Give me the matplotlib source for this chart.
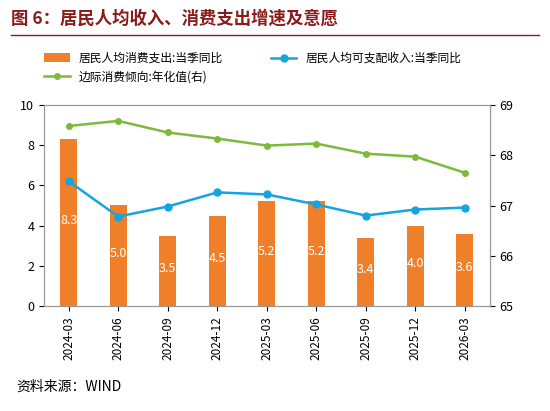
import matplotlib
matplotlib.use("Agg")
import matplotlib.pyplot as plt
plt.rcParams['font.family'] = ['Noto Sans CJK SC', 'DejaVu Sans']

cats = ["2024-03","2024-06","2024-09","2024-12","2025-03","2025-06","2025-09","2025-12","2026-03"]
consume = [8.3,5.0,3.5,4.5,5.2,5.2,3.4,4.0,3.6]
income = [6.2,4.45,4.95,5.65,5.55,5.05,4.5,4.8,4.9]
mpc = [68.58,68.68,68.45,68.33,68.19,68.23,68.03,67.97,67.65]

fig = plt.figure(figsize=(5.5,4.11), dpi=100)
fig.text(0.02,0.955,"图 6：居民人均收入、消费支出增速及意愿",fontsize=12.5,fontweight='bold',color='#8B1A1A',va='center')
fig.add_artist(plt.Line2D([0.02,0.98],[0.915,0.915],color='#8B1A1A',lw=1))
fig.text(0.03,0.06,"资料来源：WIND",fontsize=10,style='italic',va='center')

ax = fig.add_axes([0.08,0.255,0.81,0.49])
x = range(len(cats))
bars = ax.bar(x,consume,width=0.35,color='#F07F2A',label='居民人均消费支出:当季同比',zorder=2)
for i,v in zip(x,consume):
    ax.text(i,v/2+0.1,f"{v:.1f}",color='white',ha='center',va='center',fontsize=9)
l_inc, = ax.plot(x,income,color='#16A4E0',marker='o',ms=5,lw=1.8,label='居民人均可支配收入:当季同比',zorder=3)
ax.set_ylim(0,10)
ax.set_yticks(range(0,11,2))
ax.set_xlim(-0.5,len(cats)-0.5)
ax.set_xticks(list(x))
ax.set_xticklabels(cats,rotation=90,fontsize=8.5)
ax.tick_params(axis='y',labelsize=9)
ax2 = ax.twinx()
l_mpc, = ax2.plot(x,mpc,color='#7DBA3C',marker='o',ms=4,lw=1.8,label='边际消费倾向:年化值(右)')
ax2.set_ylim(65,69)
ax2.set_yticks(range(65,70))
ax2.tick_params(axis='y',labelsize=9)
for a in (ax,ax2):
    for s in a.spines.values(): s.set_color('#999999')
fig.legend([bars,l_mpc,l_inc],['居民人均消费支出:当季同比','边际消费倾向:年化值(右)','居民人均可支配收入:当季同比'],
           loc='upper left',bbox_to_anchor=(0.06,0.9),ncol=2,frameon=False,fontsize=8.5,columnspacing=4,handlelength=2.2)
fig.savefig("out.png",dpi=100)
